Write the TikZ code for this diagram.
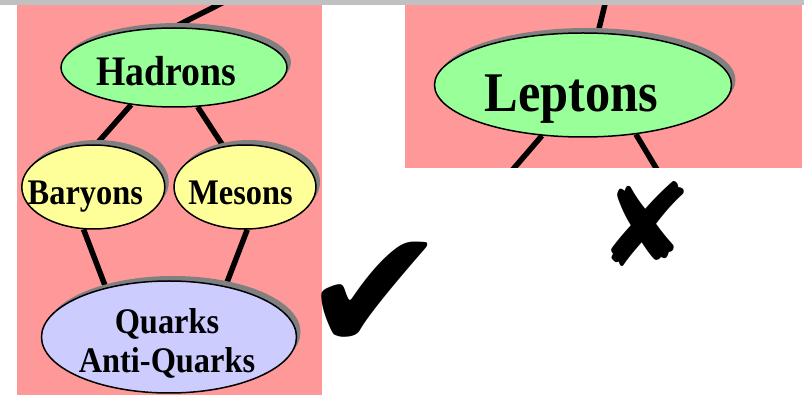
\documentclass[tikz,border=0pt]{standalone}
\usepackage{fontspec}
\setmainfont{Liberation Serif}[FakeStretch=0.9]
\newfontfamily\symfont{DejaVu Sans}
\usetikzlibrary{shapes.geometric,shadows,backgrounds}
\definecolor{pinkbg}{RGB}{255,153,153}
\definecolor{topgray}{RGB}{192,192,192}
\definecolor{shadegray}{RGB}{128,128,128}
\definecolor{partgreen}{RGB}{153,255,153}
\definecolor{partyellow}{RGB}{255,255,153}
\definecolor{partblue}{RGB}{204,204,255}
\begin{document}
\begin{tikzpicture}[x=1pt,y=-1pt]
	\tikzstyle{part} = [draw, ellipse, line width=1.5pt, inner sep=0pt, drop shadow={shadow xshift=4pt, shadow yshift=5pt, fill=shadegray, opacity=1}]
	\tikzstyle{lbl} = [anchor=base, inner sep=0pt]
	\tikzstyle{link} = [line width=5.5pt]
	\useasboundingbox (0,0) rectangle (804,395);

	\node[part, fill=partgreen, minimum width=226pt, minimum height=79pt] (had) at (174,67.5) {};
	\node[part, fill=partyellow, minimum width=143pt, minimum height=84pt] (bar) at (93.3,187) {};
	\node[part, fill=partyellow, minimum width=142pt, minimum height=84pt] (mes) at (245,187) {};
	\node[part, fill=partblue, minimum width=255pt, minimum height=112pt] (qua) at (169,337) {};
	\node[part, fill=partgreen, minimum width=297pt, minimum height=104pt] (lep) at (583,85) {};

	\node[lbl, font=\bfseries\fontsize{42}{42}\selectfont] (hadtxt) at ([shift={(-7.5,18.5)}]had.center) {Hadrons};
	\node[lbl, font=\bfseries\fontsize{36}{36}\selectfont] (bartxt) at ([shift={(-8,18)}]bar.center) {Baryons};
	\node[lbl, font=\bfseries\fontsize{36}{36}\selectfont] (mestxt) at ([shift={(-4.5,18)}]mes.center) {Mesons};
	\node[lbl, font=\bfseries\fontsize{36}{36}\selectfont] (quatxt) at ([shift={(-2,-3.5)}]qua.center) {Quarks};
	\node[lbl, font=\bfseries\fontsize{36}{36}\selectfont] (antitxt) at ([shift={(-2,36)}]qua.center) {Anti-Quarks};
	\node[lbl, font=\bfseries\fontsize{56}{56}\selectfont] (leptxt) at ([shift={(-11.5,27)}]lep.center) {Leptons};

	% right / wrong marks
	\node[inner sep=0pt, font=\symfont\fontsize{175}{175}\selectfont] (yes) at (375,297) {✔};
	\node[inner sep=0pt, font=\symfont\fontsize{115}{115}\selectfont] (no) at (646,224) {✘};

	\coordinate (hadup) at (228,0);
	\coordinate (lepup) at (606,0);
	\coordinate (lepdl) at (510.7,172);
	\coordinate (lepdr) at (658.5,172);

	\begin{pgfonlayer}{background}
		\fill[pinkbg] (17,5) rectangle (322,395);
		\fill[pinkbg] (405,5) rectangle (802,168);

		\draw[link] (had.north) -- (hadup);
		\draw[link] (had.221) -- (bar.86);
		\draw[link] (had.301) -- (mes.118);
		\draw[link] (bar.257) -- (qua.142);
		\draw[link] (mes.273) -- (qua.42);

		\draw[link] (lep.74) -- (lepup);
		\begin{scope}
			\clip (405,5) rectangle (802,168);
			\draw[link] (lep.231) -- (lepdl);
			\draw[link] (lep.317) -- (lepdr);
		\end{scope}
	\end{pgfonlayer}

	\fill[topgray] (0,0) rectangle (804,5);
\end{tikzpicture}
\end{document}
